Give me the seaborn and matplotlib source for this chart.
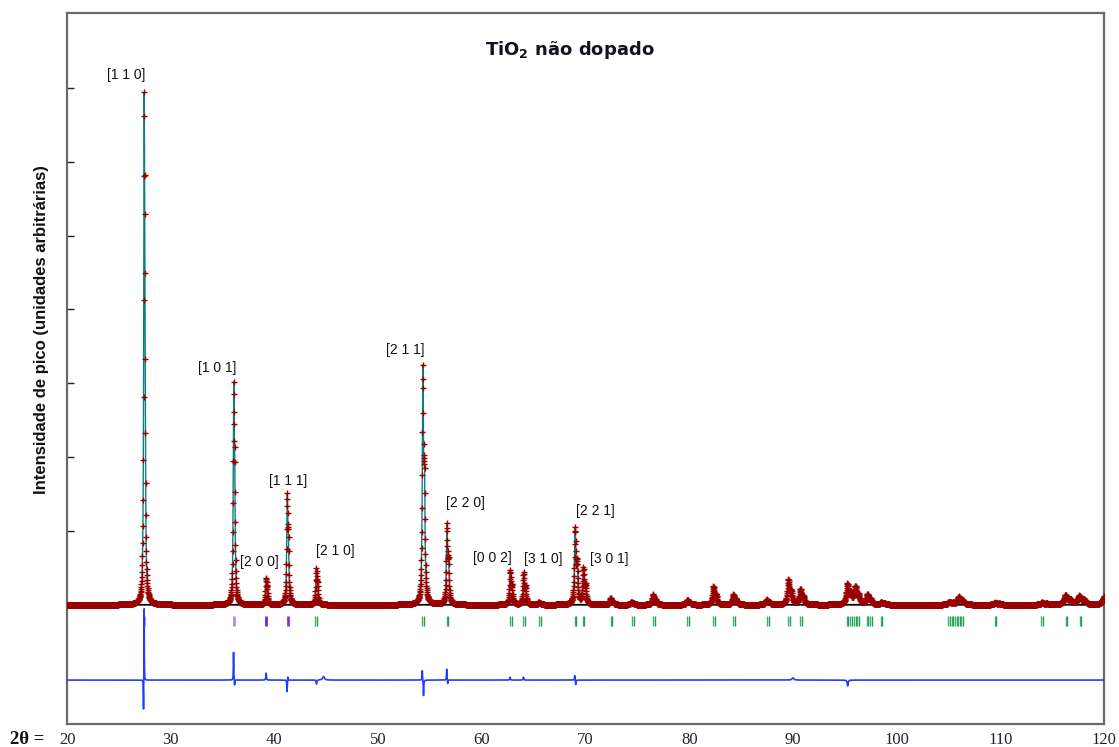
import numpy as np
import pandas as pd
import seaborn as sns
import matplotlib
matplotlib.use("Agg")
import matplotlib.pyplot as plt

# ---------------- data ----------------
# Bragg peaks: position (2theta, deg), height (arb. units), FWHM (deg)
peak_pos = [27.44, 36.08, 39.20, 41.24, 44.04, 54.32, 56.64, 62.74, 64.04, 65.48,
            69.00, 69.80, 72.42, 74.42, 76.52, 79.82, 82.34, 84.26, 87.46, 89.56,
            90.72, 95.26, 96.02, 97.18, 98.52, 105.10, 106.00, 109.52, 114.04,
            116.30, 117.62, 120.10]
peak_height = [6940, 3020, 360, 1510, 490, 3250, 1100, 470, 440, 30,
               1050, 490, 90, 40, 140, 70, 250, 140, 70, 340,
               210, 280, 240, 140, 30, 40, 110, 30, 30,
               130, 120, 160]
peak_fwhm = [0.10, 0.11, 0.12, 0.12, 0.12, 0.13, 0.13, 0.14, 0.14, 0.15,
             0.15, 0.15, 0.16, 0.17, 0.18, 0.20, 0.20, 0.20, 0.22, 0.22,
             0.22, 0.25, 0.25, 0.25, 0.25, 0.30, 0.30, 0.30, 0.30,
             0.35, 0.35, 0.35]

# residual (obs - calc) features: position, amplitude, width
resid_pos = [27.44, 27.38, 36.06, 36.16, 39.20, 41.22, 41.30, 44.06, 44.74,
             54.26, 54.38, 56.62, 56.72, 62.72, 64.02, 68.96, 69.06, 90.00, 95.28]
resid_amp = [1010, -450, 380, -80, 95, -160, 55, -55, 50,
             135, -215, 150, -55, 40, 40, 65, -65, 30, -80]
resid_w = [0.03, 0.04, 0.04, 0.05, 0.06, 0.05, 0.05, 0.06, 0.20,
           0.05, 0.05, 0.05, 0.05, 0.06, 0.06, 0.06, 0.06, 0.20, 0.10]

# reflection (hkl) marker positions
refl_purple = [27.40, 36.10, 39.20, 41.30]
refl_purple_colors = ["#c77ce6", "#b58af0", "#7a1fe6", "#8a2be2"]
refl_green = [44.00, 54.30, 56.70, 62.80, 64.10, 65.60, 69.05, 69.80, 72.50, 74.55,
              76.60, 79.90, 82.40, 84.30, 87.60, 89.65, 90.80, 95.25, 95.60, 96.00,
              96.30, 97.20, 97.50, 98.55, 105.05, 105.40, 105.75, 106.00, 106.30,
              109.55, 114.05, 116.40, 117.75]

# peak labels
hkl_labels = ["[1 1 0]", "[1 0 1]", "[2 0 0]", "[1 1 1]", "[2 1 0]", "[2 1 1]",
              "[2 2 0]", "[0 0 2]", "[3 1 0]", "[2 2 1]", "[3 0 1]"]
hkl_label_x = [25.74, 34.51, 38.56, 41.36, 45.89, 52.59, 58.38, 60.98, 65.90, 70.92, 72.27]
hkl_label_y = [7173, 3207, 580, 1677, 729, 3451, 1379, 634, 620, 1270, 620]

x_ticks = [20, 30, 40, 50, 60, 70, 80, 90, 100, 110, 120]
y_ticks = [1000, 2000, 3000, 4000, 5000, 6000, 7000]

# ---------------- build profiles ----------------
LAM1, LAM2 = 1.5406, 1.5444
tt = np.round(np.arange(20.0, 120.0001, 0.02), 4)


def lor(x, x0, w):
    return 1.0 / (1.0 + (2.0 * (x - x0) / w) ** 2)


calc = np.zeros_like(tt)
for p, h, w in zip(peak_pos, peak_height, peak_fwhm):
    th = np.radians(p / 2)
    p2 = 2 * np.degrees(np.arcsin(min(0.999, LAM2 / LAM1 * np.sin(th))))
    norm = 1 + 0.5 * lor(p, p2, w)
    calc += h * (lor(tt, p, w) + 0.5 * lor(tt, p2, w)) / norm

resid = np.zeros_like(tt)
for p, a, w in zip(resid_pos, resid_amp, resid_w):
    resid += a * lor(tt, p, w)

DIFF_OFFSET = -1020
df = pd.DataFrame({"tt": tt, "obs": calc, "calc": calc, "diff": resid + DIFF_OFFSET,
                   "bkg": np.zeros_like(tt)})

# ---------------- plot ----------------
sns.set_theme(style="white")
plt.rcParams["font.family"] = ["Liberation Sans", "DejaVu Sans"]
plt.rcParams["mathtext.fontset"] = "custom"
plt.rcParams["mathtext.rm"] = "DejaVu Sans"
plt.rcParams["mathtext.bf"] = "DejaVu Sans:bold"

fig = plt.figure(figsize=(11.19, 7.47), dpi=100)
ax = fig.add_axes([67 / 1119, 1 - 724 / 747, (1104 - 67) / 1119, (724 - 13) / 747])

sns.lineplot(data=df, x="tt", y="bkg", ax=ax, color="black", lw=1.3, zorder=1,
             estimator=None, sort=False)
sns.lineplot(data=df, x="tt", y="calc", ax=ax, color="#0b7f80", lw=1.0, zorder=2,
             estimator=None, sort=False)
sns.scatterplot(data=df, x="tt", y="obs", ax=ax, marker="+", s=20, color="#990000",
                linewidth=1.0, zorder=3)
sns.lineplot(data=df, x="tt", y="diff", ax=ax, color="#1f3dff", lw=1.2, zorder=3,
             estimator=None, sort=False)

# reflection markers
for p, c in zip(refl_purple, refl_purple_colors):
    ax.vlines(p, -284, -149, colors=c, lw=2.0, zorder=2)
for p in refl_green:
    ax.vlines([p - 0.08, p + 0.08], -284, -149, colors=["#3fb36e", "#1f9d55"], lw=1.0, zorder=2)

for t, x, y in zip(hkl_labels, hkl_label_x, hkl_label_y):
    ax.text(x, y, t, ha="center", va="center", fontsize=10, color="#111111")

ax.text(0.485, 0.948, r"TiO$_\mathbf{2}$ não dopado", transform=ax.transAxes,
        ha="center", va="center", fontsize=13, fontweight="bold", color="#111122",
        family=["DejaVu Sans"])

ax.set_xlim(20, 120)
ax.set_ylim(-1615, 8016)
ax.set_xticks(x_ticks)
ax.set_xticklabels([str(v) for v in x_ticks], family=["Liberation Serif"], fontsize=12,
                   color="#22223a")
ax.set_yticks(y_ticks)
ax.set_yticklabels([])
ax.tick_params(axis="x", direction="in", length=3, width=1, color="#444444", pad=6)
ax.tick_params(axis="y", direction="in", length=5, width=1, color="#222222", left=True)
ax.set_xlabel("")
ax.set_ylabel("")
for s in ax.spines.values():
    s.set_color("#6a6a6a")
    s.set_linewidth(1.6)

fig.text(42 / 1119, 1 - 330 / 747, "Intensidade de pico (unidades arbitrárias)",
         rotation=90, ha="center", va="center", fontsize=12, fontweight="bold",
         color="#111111")
fig.text(10 / 1119, 1 - 740 / 747, "2θ =", ha="left", va="center", fontsize=13.5,
         fontweight="bold", family=["Liberation Serif", "DejaVu Serif"], color="#111111")

fig.savefig("out.png", dpi=100)
